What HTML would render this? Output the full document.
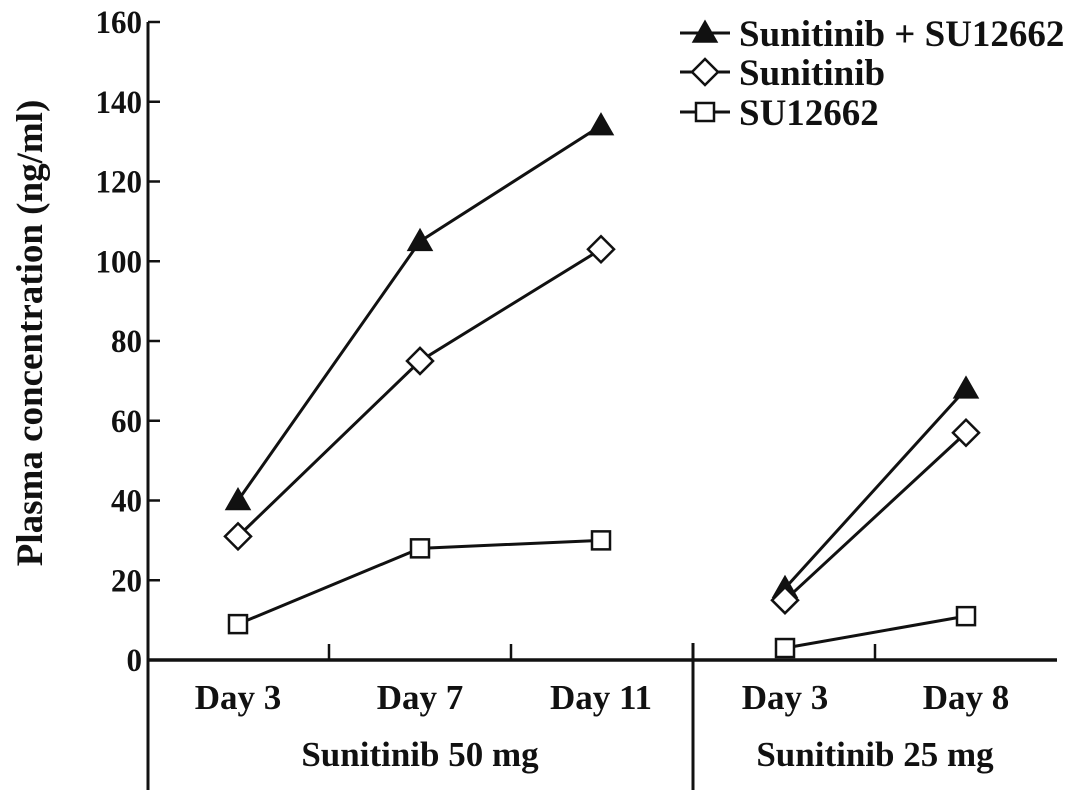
<!DOCTYPE html>
<html><head><meta charset="utf-8"><style>
html,body{margin:0;padding:0;background:#fff;}
svg{display:block;}
text{font-family:"Liberation Serif",serif;font-weight:bold;fill:#111;}
</style></head><body>
<svg id="chart" width="1087" height="804" viewBox="0 0 1087 804" xmlns="http://www.w3.org/2000/svg">
<g id="axes"></g><g id="series"></g><g id="legend"></g>
</svg>
<script>
const categories = ["Day 3","Day 7","Day 11","Day 3","Day 8"];
const groups = ["Sunitinib 50 mg","Sunitinib 25 mg"];
const comboValues = [40,105,134,18,68];
const sunitinibValues = [31,75,103,15,57];
const su12662Values = [9,28,30,3,11];
const yTicks = [0,20,40,60,80,100,120,140,160];

const NS="http://www.w3.org/2000/svg";
const X0=148, Y0=660, YTOP=22, XEND=1057;
const catX=[238,420,601,785,966];
function y(v){return Y0-(v/160)*(Y0-YTOP);}
function x(i){return catX[i];}
function mk(tag,attrs,parent){const e=document.createElementNS(NS,tag);for(const k in attrs)e.setAttribute(k,attrs[k]);parent.appendChild(e);return e;}
const axes=document.getElementById('axes'), ser=document.getElementById('series'), leg=document.getElementById('legend');

let a=mk('line',{x1:X0,y1:YTOP,x2:X0,y2:790,stroke:'#111','stroke-width':3},axes);


a=mk('line',{x1:X0,y1:Y0,x2:XEND,y2:Y0,stroke:'#111','stroke-width':3.5},axes);


a=mk('line',{x1:693,y1:643,x2:693,y2:790,stroke:'#111','stroke-width':3},axes);


[329,511,875].forEach(tx=>{const t=mk('line',{x1:tx,y1:644,x2:tx,y2:Y0,stroke:'#111','stroke-width':2.5},axes);

});
yTicks.forEach(v=>{
 const t=mk('line',{x1:X0,y1:y(v),x2:X0+12,y2:y(v),stroke:'#111','stroke-width':2.5},axes);
 
 
 const l=mk('text',{x:X0-6,y:y(v)+11,'text-anchor':'end','font-size':33,textLength:String(v).length*15.5,lengthAdjust:'spacingAndGlyphs'},axes);l.textContent=v;
 
 
});
categories.forEach((c,i)=>{const l=mk('text',{x:x(i),y:709,'text-anchor':'middle','font-size':35},axes);l.textContent=c;
 
 });
[[420,groups[0]],[875,groups[1]]].forEach(([gx,g])=>{const l=mk('text',{x:gx,y:766,'text-anchor':'middle','font-size':35},axes);l.textContent=g;
 
 });
const yt=mk('text',{x:0,y:0,'text-anchor':'middle','font-size':37,transform:'translate(42,333) rotate(-90)'},axes);
yt.textContent='Plasma concentration (ng/ml)';



function marker(type,cx,cy,parent){
 let m;
 if(type==='tri') m=mk('polygon',{points:`${cx},${cy-12} ${cx-12},${cy+9} ${cx+12},${cy+9}`,fill:'#111',stroke:'#111','stroke-width':1.5},parent);
 else if(type==='dia') m=mk('polygon',{points:`${cx},${cy-13} ${cx+13},${cy} ${cx},${cy+13} ${cx-13},${cy}`,fill:'#fff',stroke:'#111','stroke-width':2.5},parent);
 else m=mk('rect',{x:cx-9,y:cy-9,width:18,height:18,fill:'#fff',stroke:'#111','stroke-width':2.5},parent);
 return m;
}
const series=[["combo",comboValues,'tri'],["sunitinib",sunitinibValues,'dia'],["su12662",su12662Values,'sq']];
series.forEach(([name,vals,type])=>{
 [[0,3],[3,5]].forEach(([s,e])=>{
  const pts=[];for(let i=s;i<e;i++)pts.push(x(i)+','+y(vals[i]));
  const p=mk('polyline',{points:pts.join(' '),fill:'none',stroke:'#111','stroke-width':3},ser);
  
  
 });
 vals.forEach((v,i)=>{const m=marker(type,x(i),y(v),ser);
  
  });
});
const legItems=[["Sunitinib + SU12662",'tri',33],["Sunitinib",'dia',72],["SU12662",'sq',112]];
legItems.forEach(([lab,type,ly])=>{
 const g=mk('g',{},leg);
 
 
 mk('line',{x1:680,y1:ly,x2:730,y2:ly,stroke:'#111','stroke-width':3},g);
 marker(type,705,ly,g);
 const t=mk('text',{x:739,y:ly+13,'font-size':37},g);t.textContent=lab;
});
</script>
</body></html>
